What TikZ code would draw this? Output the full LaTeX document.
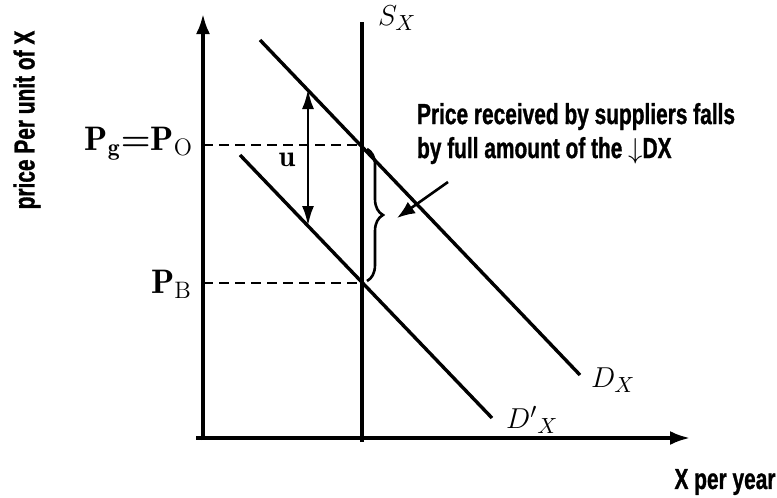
\documentclass[tikz,border=0pt]{standalone}
\usepackage{fontspec}
\usetikzlibrary{arrows.meta,decorations.pathreplacing,positioning}
\newfontfamily\handfont[FakeStretch=0.72,FakeBold=1]{Liberation Sans}
\begin{document}
\begin{tikzpicture}[x=0.5pt,y=-0.5pt,
  axis/.style={line width=1.7pt,-{Latex[length=10pt,width=7pt]}},
  curve/.style={line width=1.7pt},
  guide/.style={line width=1.1pt,dash pattern=on 5pt off 3pt},
  hand/.style={font=\handfont\bfseries\fontsize{14.5}{14}\selectfont},
  lab/.style={font=\fontsize{15}{16}\selectfont}]
  \useasboundingbox (0,0) rectangle (777,498);
  \coordinate (O) at (203,440);
  \coordinate (ytop) at (203,14);
  \coordinate (xend) at (690,438);
  \coordinate (x0) at (196,438);
  \coordinate (S1) at (362,22);
  \coordinate (S2) at (362,442);
  \coordinate (D1) at (260,40);
  \coordinate (D2) at (580,375);
  \coordinate (E1) at (240,155);
  \coordinate (E2) at (492,418);
  \coordinate (PO) at (362,145);
  \coordinate (PB) at (362,283);
  \coordinate (yPO) at (203,145);
  \coordinate (yPB) at (203,283);
  \coordinate (U1) at (308,89);
  \coordinate (U2) at (308,226);
  \coordinate (B1) at (367,149);
  \coordinate (B2) at (367,281);
  \coordinate (A1) at (448,182);
  \coordinate (A2) at (397,218);
  % axes and the supply line
  \draw[axis] (O) -- (ytop);
  \draw[axis] (x0) -- (xend);
  \draw[curve] (S1) -- (S2);
  % demand before and after
  \draw[curve] (D1) -- (D2);
  \draw[curve] (E1) -- (E2);
  \draw[guide] (yPO) -- (PO);
  \draw[guide] (yPB) -- (PB);
  \draw[line width=1.4pt,{Latex[length=10pt,width=6pt]}-{Latex[length=10pt,width=6pt]}] (U2) -- (U1);
  \draw[line width=1.3pt,decorate,decoration={brace,amplitude=8pt}] (B1) -- (B2);
  \draw[line width=1.3pt,-{Latex[length=9pt,width=7pt]}] (A1) -- (A2);
  \node[hand,anchor=north west,align=left] (note) at (410,96)
    {Price received by suppliers falls\\[3pt]by full amount of the $\downarrow$DX};
  \node[lab,anchor=west] (sx) at (371,18) {$S_X$};
  \node[lab,anchor=west] (dx) at (584,380) {$D_X$};
  \node[lab,anchor=west] (dpx) at (499,420) {$D'{}_X$};
  \node[lab,anchor=east,font=\fontsize{17}{18}\selectfont] (pg) at (200,144)
    {$\mathbf{P}_{\mathbf{g}}$\textbf{=}$\mathbf{P}_{\mathrm{O}}$};
  \node[lab,anchor=east,font=\fontsize{17}{18}\selectfont] (pb) at (199,284) {$\mathbf{P}_{\mathrm{B}}$};
  \node[lab] (u) at (287,160) {$\mathbf{u}$};
  \node[hand] (xl) at (725,482) {X per year};
  \node[hand,rotate=90] (yl) at (27,120) {price Per unit of X};
\end{tikzpicture}
\end{document}
